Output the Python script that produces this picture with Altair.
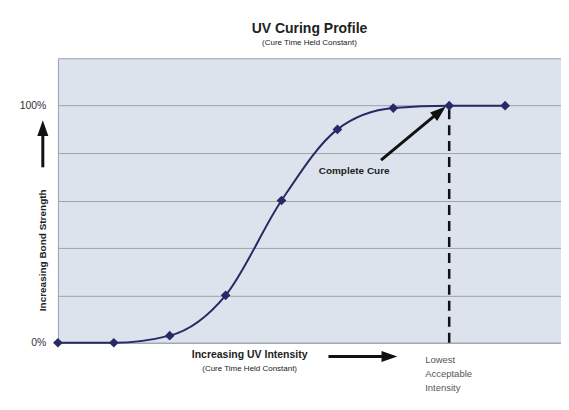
import altair as alt
import pandas as pd

# ---- data ----
intensity = [0, 1, 2, 3, 4, 5, 6, 7, 8]
strength = [0, 0, 3, 20, 60, 90, 99, 100, 100]
y_ticks = [0, 20, 40, 60, 80, 100]
lowest_acceptable = 7

# annotation texts (data coordinates)
ylab_text = ["Increasing Bond Strength"]
ylab_x = [-0.27]
ylab_y = [39]

xlab_text = ["Increasing UV Intensity"]
xlab_x = [3.43]
xlab_y = [-5.0]

xsub_text = ["(Cure Time Held Constant)"]
xsub_x = [3.43]
xsub_y = [-10.9]

lowest_text = ["Lowest", "Acceptable", "Intensity"]
lowest_x = [6.57, 6.57, 6.57]
lowest_y = [-7.2, -13.3, -19.2]

cure_text = ["Complete Cure"]
cure_x = [5.3]
cure_y = [72.5]

# arrows: tail (x, y) -> head centre (x2, y2); head angle
arrow_x = [-0.27, 4.84, 5.78]
arrow_y = [74, -5.8, 77]
arrow_x2 = [-0.27, 5.9, 6.8]
arrow_y2 = [89, -5.8, 97]
head_x = [-0.27, 5.93, 6.83]
head_y = [90.5, -5.8, 97.5]
head_angle = [0, 90, 50]

FONT = "Liberation Sans Narrow, Liberation Sans, Arial"
NAVY = "#262a66"

xs = alt.Scale(domain=[0, 9], nice=False, zero=False)
ys = alt.Scale(domain=[0, 120], nice=False, zero=False)

yaxis = alt.Axis(
    values=y_ticks,
    grid=True,
    gridColor="#9ea3ab",
    gridWidth=1,
    ticks=False,
    domain=False,
    title=None,
    labelExpr="datum.value == 0 || datum.value == 100 ? datum.value + '%' : ''",
    labelPadding=12,
    labelFontSize=10.5,
    labelColor="#333333",
    labelFont=FONT,
)


def X(f):
    return alt.X(f, scale=xs, axis=None)


def Y(f):
    return alt.Y(f, scale=ys, axis=yaxis)


df = pd.DataFrame({"x": intensity, "y": strength})

line = alt.Chart(df).mark_line(color=NAVY, strokeWidth=2, interpolate="monotone").encode(
    x=X("x:Q"), y=Y("y:Q")
)

pts = alt.Chart(df).mark_point(shape="diamond", filled=True, size=95, color=NAVY, opacity=1).encode(
    x=X("x:Q"), y=Y("y:Q")
)

dash_df = pd.DataFrame({"x": [lowest_acceptable], "y": [0], "y2": [100]})
dash = alt.Chart(dash_df).mark_rule(color="#111111", strokeWidth=2.5, strokeDash=[10, 6]).encode(
    x=X("x:Q"), y=Y("y:Q"), y2="y2:Q"
)

arr_df = pd.DataFrame({"x": arrow_x, "y": arrow_y, "x2": arrow_x2, "y2": arrow_y2})
shafts = alt.Chart(arr_df).mark_rule(color="#111111", strokeWidth=3).encode(
    x=X("x:Q"), y=Y("y:Q"), x2="x2:Q", y2="y2:Q"
)

head_df = pd.DataFrame({"x": head_x, "y": head_y, "a": head_angle})
heads = alt.Chart(head_df).mark_point(
    shape="M0,-1L0.7,1L-0.7,1Z", filled=True, size=250, color="#111111", opacity=1
).encode(
    x=X("x:Q"), y=Y("y:Q"), angle=alt.Angle("a:Q", scale=None)
)


def text_layer(texts, xv, yv, **kw):
    d = pd.DataFrame({"t": texts, "x": xv, "y": yv})
    return alt.Chart(d).mark_text(font=FONT, **kw).encode(
        x=X("x:Q"), y=Y("y:Q"), text="t:N"
    )


ylab = text_layer(ylab_text, ylab_x, ylab_y, fontSize=10, fontWeight="bold", angle=270, color="#222222")
xlab = text_layer(xlab_text, xlab_x, xlab_y, fontSize=10.5, fontWeight="bold", color="#222222")
xsub = text_layer(xsub_text, xsub_x, xsub_y, fontSize=8, color="#222222")
lowest = text_layer(lowest_text, lowest_x, lowest_y, fontSize=9.5, align="left", color="#555555")
cure = text_layer(cure_text, cure_x, cure_y, fontSize=10, fontWeight="bold", color="#222222")

chart = (
    alt.layer(line, dash, pts, shafts, heads, ylab, xlab, xsub, lowest, cure)
    .properties(
        width=504,
        height=285,
        autosize=alt.AutoSizeParams(type="none"),
        padding={"left": 50, "top": 50, "right": 0, "bottom": 59},
        background="white",
        title=alt.TitleParams(
            text="UV Curing Profile",
            subtitle="(Cure Time Held Constant)",
            font=FONT,
            subtitleFont=FONT,
            fontSize=14,
            fontWeight="bold",
            subtitleFontSize=8,
            subtitlePadding=3,
            color="#222222",
            subtitleColor="#222222",
            anchor="middle",
            frame="group",
            offset=11,
        ),
    )
    .configure_view(fill="#dce3ec", stroke="#9aa1ab", strokeWidth=1)
)

chart.save("out.html", embed_options={"renderer": "svg", "actions": False})
